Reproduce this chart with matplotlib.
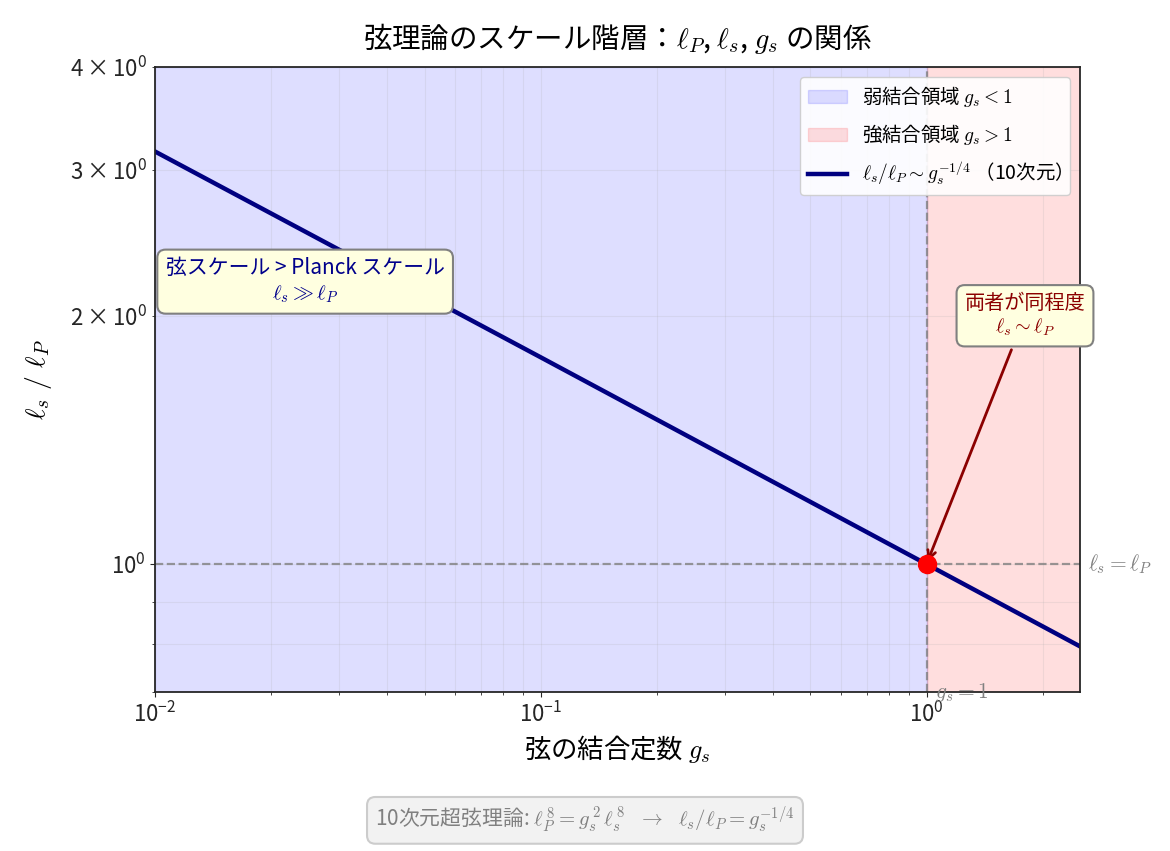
import matplotlib
matplotlib.use("Agg")
import matplotlib.pyplot as plt

plt.rcParams['font.family'] = ['Noto Sans CJK JP', 'DejaVu Sans']
plt.rcParams['mathtext.fontset'] = 'cm'
plt.rcParams['axes.unicode_minus'] = False

# データ
gs_vals = [0.01, 0.1, 1.0, 2.5]
ratio_vals = [3.16, 1.78, 1.0, 0.795]
x_range = (0.01, 2.5)
y_range = (0.7, 4.0)
point_gs = [1.0]
point_ratio = [1.0]

fig = plt.figure(figsize=(11.7, 8.51), dpi=100)
ax = fig.add_axes([0.1325, 0.1868, 0.7906, 0.7345])

# 領域の塗り分け
ax.axvspan(x_range[0], 1.0, color='blue', alpha=0.13, label=r'弱結合領域 $g_s < 1$')
ax.axvspan(1.0, x_range[1], color='red', alpha=0.13, label=r'強結合領域 $g_s > 1$')

ax.plot(gs_vals, ratio_vals, color='navy', lw=3.2,
        label=r'$\ell_s/\ell_P \sim g_s^{-1/4}$ （10次元）')

ax.axhline(1.0, color='gray', ls='--', lw=1.6, alpha=0.8)
ax.axvline(1.0, color='gray', ls='--', lw=1.6, alpha=0.8)
ax.plot(point_gs, point_ratio, 'o', color='red', ms=13, zorder=5)

ax.set_xscale('log')
ax.set_yscale('log')
ax.set_xlim(*x_range)
ax.set_ylim(*y_range)

ax.grid(True, which='both', alpha=0.2)

ax.text(2.62, 1.0, r'$\ell_s = \ell_P$', color='gray', fontsize=15.5,
        va='center', ha='left', clip_on=False)
ax.text(1.05, 0.7, r'$g_s = 1$', color='gray', fontsize=15.5,
        va='center', ha='left', clip_on=False)

ax.text(0.0245, 2.2, '弦スケール > Planck スケール\n' + r'$\ell_s \gg \ell_P$',
        color='darkblue', fontsize=15, ha='center', va='center',
        bbox=dict(boxstyle='round,pad=0.4', facecolor='lightyellow',
                  edgecolor='gray', lw=1.5))

ax.annotate('両者が同程度\n' + r'$\ell_s \sim \ell_P$', xy=(1.0, 1.0),
            xytext=(1.8, 2.0), color='darkred', fontsize=14.5,
            ha='center', va='center',
            bbox=dict(boxstyle='round,pad=0.4', facecolor='lightyellow',
                      edgecolor='gray', lw=1.5),
            arrowprops=dict(arrowstyle='->', color='darkred', lw=2))

ax.set_title(r'弦理論のスケール階層：$\ell_P$, $\ell_s$, $g_s$ の関係',
             fontsize=20.5, pad=14)
ax.set_xlabel(r'弦の結合定数 $g_s$', fontsize=19)
ax.set_ylabel(r'$\ell_s\ /\ \ell_P$', fontsize=20, labelpad=12)
ax.tick_params(which='both', labelsize=16, colors='#262626')
for s in ax.spines.values():
    s.set_color('#262626')
    s.set_linewidth(1.3)

ax.legend(loc='upper right', fontsize=14, framealpha=0.9, labelspacing=0.65)

fig.text(0.5, 0.036,
         r'10次元超弦理論: $\ell_P^{\,8} = g_s^{\,2}\,\ell_s^{\,8}\ \ \rightarrow\ \ \ell_s/\ell_P = g_s^{-1/4}$',
         color='gray', fontsize=15, ha='center', va='center',
         bbox=dict(boxstyle='round,pad=0.4', facecolor='#f2f2f2',
                   edgecolor='#cccccc', lw=1.5))

fig.savefig('out.png', dpi=100)
